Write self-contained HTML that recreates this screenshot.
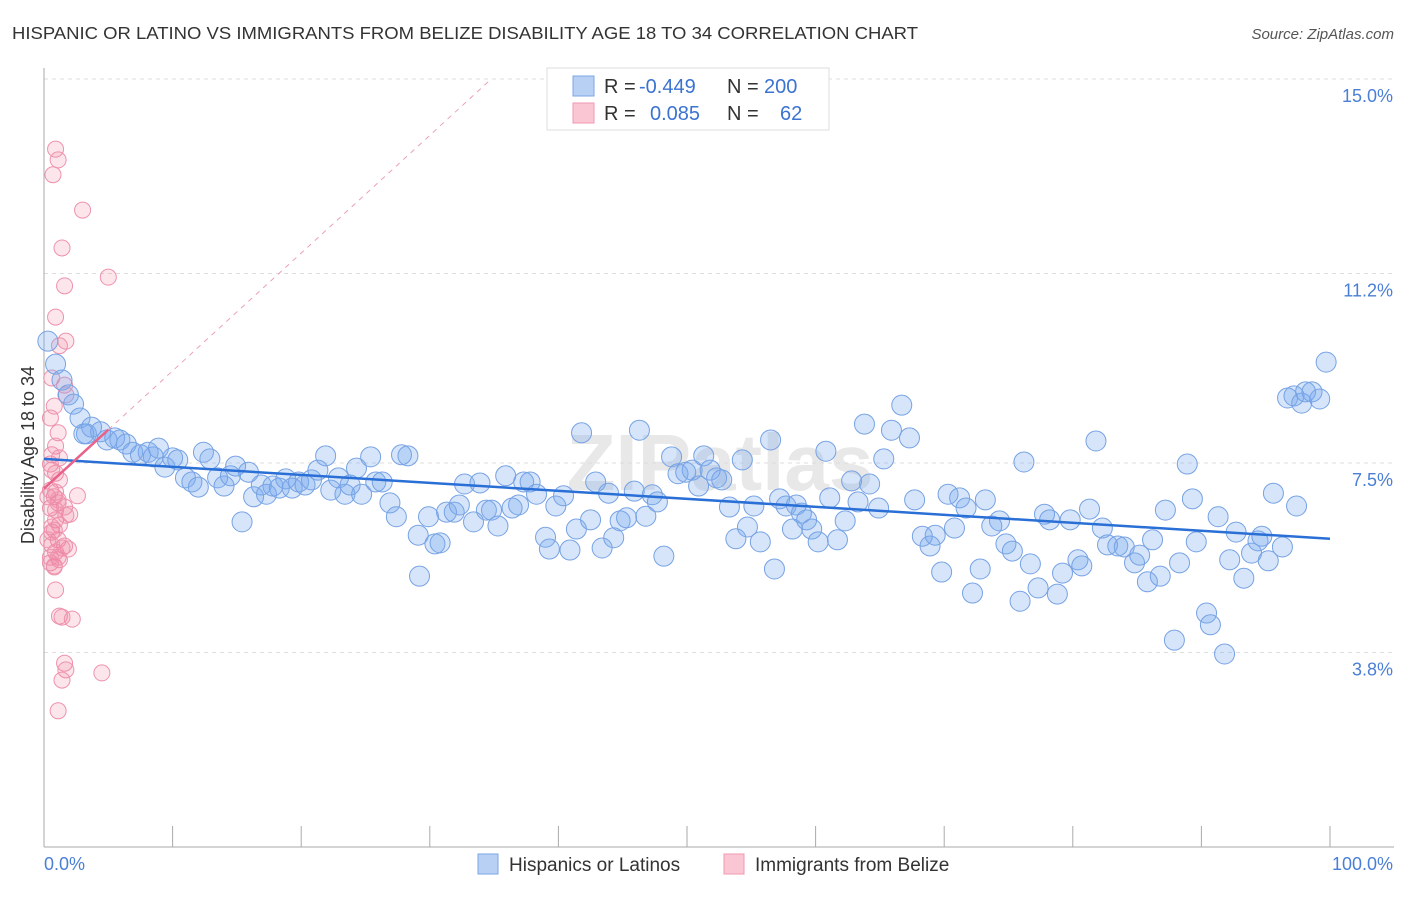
<!DOCTYPE html>
<html><head><meta charset="utf-8"><style>
body{margin:0;background:#fff;font-family:"Liberation Sans",sans-serif;}
svg text{font-family:"Liberation Sans",sans-serif;}
</style></head><body>
<svg id="chart" width="1406" height="892" xmlns="http://www.w3.org/2000/svg">
<text x="12" y="39" font-size="17.5" fill="#333" textLength="906" lengthAdjust="spacingAndGlyphs">HISPANIC OR LATINO VS IMMIGRANTS FROM BELIZE DISABILITY AGE 18 TO 34 CORRELATION CHART</text>
<text x="1394" y="39" font-size="15" fill="#555" font-style="italic" text-anchor="end">Source: ZipAtlas.com</text>
<text x="720" y="490" font-size="80" fill="#e8e8e8" text-anchor="middle" font-weight="bold">ZIPatlas</text>
<g id="grid"></g>
<g id="axes"></g>
<g id="pts"></g>
<g id="trends"></g>
<text transform="translate(34,455) rotate(-90)" font-size="18" fill="#333" text-anchor="middle">Disability Age 18 to 34</text>
<text x="44" y="870" font-size="18" fill="#4a7fd6">0.0%</text>
<text x="1393" y="870" font-size="18" fill="#4a7fd6" text-anchor="end">100.0%</text>
<g>
<rect x="547" y="68" width="282" height="62" fill="#fff" stroke="#ddd"/>
<rect x="573" y="76" width="21" height="20" fill="#b7d0f4" stroke="#7da7e6"/>
<rect x="573" y="103" width="21" height="20" fill="#fbc6d4" stroke="#ef9ab2"/>
<text x="604" y="93" font-size="20" fill="#333">R = </text><text x="639" y="93" font-size="20" fill="#3b73d0">-0.449</text>
<text x="727" y="93" font-size="20" fill="#333">N = </text><text x="764" y="93" font-size="20" fill="#3b73d0">200</text>
<text x="604" y="120" font-size="20" fill="#333">R = </text><text x="650" y="120" font-size="20" fill="#3b73d0">0.085</text>
<text x="727" y="120" font-size="20" fill="#333">N = </text><text x="780" y="120" font-size="20" fill="#3b73d0">62</text>
</g>
<g>
<rect x="478" y="854" width="20" height="20" fill="#b7d0f4" stroke="#7da7e6"/>
<text x="509" y="871" font-size="19" fill="#333">Hispanics or Latinos</text>
<rect x="724" y="854" width="20" height="20" fill="#fbc6d4" stroke="#ef9ab2"/>
<text x="755" y="871" font-size="19" fill="#333">Immigrants from Belize</text>
</g>
</svg>
<script>
const yTicks=[15.0,11.2,7.5,3.8];
const yTickLabels=["15.0%","11.2%","7.5%","3.8%"];
const xTicks=[0,10,20,30,40,50,60,70,80,90,100];
const blueX=[0.3,0.9,1.4,1.9,2.3,2.8,3.3,3.7,4.4,4.9,5.5,5.9,6.4,6.9,7.5,8.1,8.5,8.9,9.4,10.0,10.4,11.0,11.5,12.0,12.4,12.9,13.5,14.0,14.5,14.9,15.4,15.9,16.3,16.9,17.3,17.8,18.3,18.8,19.3,19.8,20.3,20.8,21.3,21.9,22.3,22.9,23.4,23.8,24.3,24.7,25.4,25.8,26.3,26.9,27.4,27.8,28.3,29.1,29.2,29.9,30.4,30.8,31.3,31.9,32.3,32.7,33.4,33.9,34.4,34.8,35.3,35.9,36.4,36.9,37.3,37.8,38.3,39.0,39.3,39.8,40.4,40.9,41.4,41.8,42.5,42.9,43.4,43.9,44.3,44.8,45.3,45.9,46.3,46.8,47.3,47.7,48.2,48.8,49.3,49.9,50.4,50.9,51.3,51.8,52.3,52.7,53.3,53.8,54.3,54.7,55.2,55.7,56.5,56.8,57.2,57.7,58.2,58.5,58.9,59.3,59.7,60.2,60.8,61.1,61.7,62.3,62.8,63.3,63.8,64.2,64.9,65.3,65.9,66.7,67.3,67.7,68.3,68.9,69.3,69.8,70.3,70.8,71.2,71.7,72.2,72.8,73.2,73.7,74.3,74.8,75.3,75.9,76.2,76.7,77.3,77.8,78.2,78.8,79.2,79.8,80.4,80.7,81.3,81.8,82.3,82.7,83.5,84.0,84.8,85.2,85.8,86.2,86.8,87.2,87.9,88.3,88.9,89.3,89.6,90.4,90.7,91.3,91.8,92.2,92.7,93.3,93.9,94.4,94.7,95.2,95.6,96.3,96.7,97.2,97.4,97.8,98.1,98.6,99.2,99.7,3.1];
const blueY=[9.88,9.43,9.12,8.83,8.65,8.38,8.07,8.20,8.11,7.95,7.99,7.95,7.87,7.71,7.66,7.71,7.62,7.79,7.42,7.60,7.56,7.21,7.13,7.03,7.71,7.58,7.21,7.05,7.25,7.44,6.35,7.32,6.84,7.07,6.89,7.05,7.01,7.19,7.01,7.13,7.07,7.17,7.36,7.64,6.97,7.21,6.89,7.07,7.40,6.89,7.62,7.13,7.13,6.72,6.45,7.66,7.64,6.09,5.29,6.45,5.92,5.94,6.54,6.54,6.68,7.09,6.35,7.11,6.58,6.58,6.27,7.25,6.62,6.68,7.13,7.13,6.89,6.05,5.82,6.66,6.86,5.80,6.21,8.09,6.39,7.13,5.84,6.91,6.04,6.37,6.43,6.95,8.14,6.46,6.88,6.74,5.68,7.62,7.29,7.32,7.36,7.05,7.64,7.36,7.21,7.17,6.64,6.02,7.56,6.25,6.66,5.96,7.95,5.43,6.80,6.66,6.21,6.68,6.52,6.39,6.21,5.96,7.73,6.82,6.00,6.37,7.15,6.74,8.26,7.09,6.62,7.58,8.14,8.63,7.99,6.78,6.07,5.88,6.09,5.37,6.89,6.23,6.82,6.62,4.96,5.43,6.78,6.27,6.37,5.92,5.78,4.80,7.52,5.53,5.06,6.50,6.39,4.94,5.35,6.39,5.61,5.49,6.60,7.93,6.23,5.90,5.88,5.86,5.55,5.70,5.18,6.00,5.29,6.58,4.04,5.55,7.48,6.80,5.96,4.57,4.34,6.45,3.77,5.61,6.15,5.25,5.74,5.98,6.07,5.59,6.91,5.86,8.77,8.81,6.66,8.67,8.89,8.89,8.75,9.47,8.07];
const pinkX=[0.9,1.1,0.7,3.0,1.4,1.6,5.0,0.9,1.7,1.2,1.6,0.6,1.7,0.8,0.5,1.1,0.9,0.6,0.5,0.9,1.2,0.5,0.8,1.1,1.6,2.0,2.6,0.5,0.9,1.2,0.6,1.1,1.6,1.9,0.6,0.9,1.2,0.5,0.8,1.1,0.9,1.2,1.4,2.2,1.6,1.7,1.4,4.5,1.1,0.3,0.6,0.8,0.9,0.5,0.3,0.6,0.9,1.2,0.8,1.4,1.7,1.1];
const pinkY=[13.63,13.42,13.13,12.44,11.70,10.96,11.13,10.35,9.88,9.79,9.02,9.16,8.83,8.61,8.38,8.09,7.83,7.66,7.48,7.30,7.17,6.97,6.84,6.72,6.64,6.50,6.86,6.62,6.39,6.29,6.15,6.00,5.88,5.82,5.90,5.76,5.61,5.55,5.47,5.66,5.02,4.51,4.49,4.45,3.59,3.46,3.26,3.40,2.66,6.84,6.25,6.19,6.58,5.66,6.00,7.36,6.93,7.60,5.49,5.84,6.48,6.78];
const blueTrend=[7.58,6.02];
const pinkTrend=[7.0,0.23];

const NS="http://www.w3.org/2000/svg";
const X0=44,X1=1330,Y0=847,PPY=51.2;
function sx(v){return X0+(X1-X0)*v/100;}
function sy(v){return Y0-v*PPY;}
function mk(tag,attrs,parent){const e=document.createElementNS(NS,tag);for(const k in attrs)e.setAttribute(k,attrs[k]);parent.appendChild(e);return e;}
const grid=document.getElementById('grid'),axes=document.getElementById('axes'),pts=document.getElementById('pts'),tr=document.getElementById('trends');
yTicks.forEach((t,i)=>{
 const l=mk('line',{x1:X0,x2:1394,y1:sy(t),y2:sy(t),stroke:'#ddd','stroke-dasharray':'4,4'},grid);
 
 
 const tx=mk('text',{x:1393,y:sy(t)+23,'font-size':18,fill:'#4a7fd6','text-anchor':'end'},grid);
 tx.textContent=yTickLabels[i];
 
 
});
const ya=mk('line',{x1:X0,x2:X0,y1:68,y2:Y0,stroke:'#aaa'},axes);


const xa=mk('line',{x1:X0,x2:1394,y1:Y0,y2:Y0,stroke:'#aaa'},axes);


xTicks.forEach(t=>{
 const k=mk('line',{x1:sx(t),x2:sx(t),y1:826,y2:Y0,stroke:'#aaa'},axes);
 
 
});
pinkX.forEach((x,i)=>{
 const c=mk('circle',{cx:sx(x),cy:sy(pinkY[i]),r:8,fill:'rgba(240,130,160,0.2)',stroke:'#ee92ad','stroke-width':1},pts);
 
 
});
blueX.forEach((x,i)=>{
 const c=mk('circle',{cx:sx(x),cy:sy(blueY[i]),r:10,fill:'rgba(120,168,238,0.3)',stroke:'#76a2e4','stroke-width':1},pts);
 
 
});
const bl=mk('line',{x1:sx(0),y1:sy(blueTrend[0]),x2:sx(100),y2:sy(blueTrend[1]),stroke:'#2a6fd6','stroke-width':2.5},tr);


const xEnd=(15-pinkTrend[0])/pinkTrend[1];
const pd=mk('line',{x1:sx(5),y1:sy(pinkTrend[0]+pinkTrend[1]*5),x2:sx(xEnd),y2:sy(15),stroke:'#eaa0b6','stroke-width':1,'stroke-dasharray':'5,5'},tr);


const pl=mk('line',{x1:sx(0),y1:sy(pinkTrend[0]),x2:sx(5),y2:sy(pinkTrend[0]+pinkTrend[1]*5),stroke:'#e8628a','stroke-width':2.5},tr);


</script>
</body></html>
